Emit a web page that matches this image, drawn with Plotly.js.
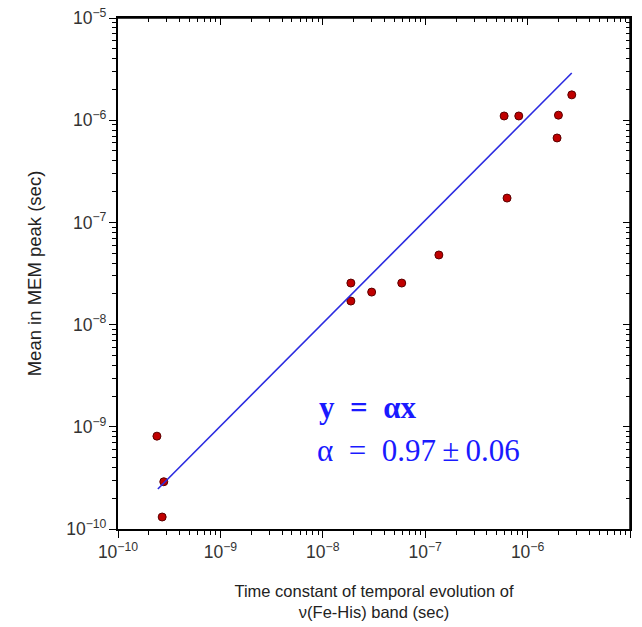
<!DOCTYPE html>
<html><head><meta charset="utf-8">
<script src="https://cdn.plot.ly/plotly-3.0.1.min.js"></script>
<style>html,body{margin:0;padding:0;background:#fff;overflow:hidden}#chart{width:642px;height:627px}</style>
</head><body><div id="chart"></div>
<script>
// Data
const timeConstant = [2.4e-10, 2.8e-10, 2.7e-10, 1.88e-8, 1.88e-8, 3.0e-8, 5.9e-8, 1.36e-7, 5.9e-7, 8.2e-7, 6.3e-7, 1.94e-6, 2.0e-6, 2.7e-6];
const memPeakMean  = [8.1e-10, 2.9e-10, 1.31e-10, 2.55e-8, 1.70e-8, 2.08e-8, 2.55e-8, 4.8e-8, 1.1e-6, 1.1e-6, 1.73e-7, 6.7e-7, 1.12e-6, 1.77e-6];
const fitX = [2.45e-10, 2.7e-6];
const fitY = [2.46e-10, 2.9e-6];
const axisRange = [-10, -5];

const tickFont = {family: 'Liberation Sans, Arial, sans-serif', size: 14, color: '#333'};
const baseAxis = {
  type: 'log', range: axisRange, dtick: 1, exponentformat: 'power', automargin: false,
  showgrid: false, zeroline: false, showline: true, linecolor: '#000', linewidth: 1.5,
  ticks: 'outside', ticklen: 7, tickwidth: 1.2, tickcolor: '#000', tickfont: tickFont,
  minor: {ticks: 'outside', ticklen: 4, tickwidth: 1, tickcolor: '#000', dtick: 'D1', showgrid: false}
};
const innerMinor = {ticks: 'inside', ticklen: 4, tickwidth: 1, tickcolor: '#000', dtick: 'D1', showgrid: false};

const data = [
  {x: timeConstant, y: memPeakMean, type: 'scatter', mode: 'markers',
   marker: {size: 8, color: '#c00000', line: {color: '#5a0000', width: 1}}, showlegend: false},
  {x: fitX, y: fitY, type: 'scatter', mode: 'lines',
   line: {color: '#2b2be0', width: 1.6}, showlegend: false},
  {x: fitX, y: fitY, xaxis: 'x2', yaxis: 'y', type: 'scatter', mode: 'markers',
   marker: {size: 1, opacity: 0}, hoverinfo: 'skip', showlegend: false},
  {x: fitX, y: fitY, xaxis: 'x', yaxis: 'y2', type: 'scatter', mode: 'markers',
   marker: {size: 1, opacity: 0}, hoverinfo: 'skip', showlegend: false}
];

const layout = {
  width: 642, height: 627,
  margin: {l: 118, r: 12, t: 18, b: 98},
  showlegend: false,
  xaxis: Object.assign({}, baseAxis, {
    title: {text: 'Time constant of temporal evolution of<br>\u03bd(Fe-His) band (sec)',
            font: {family: 'Liberation Sans, Arial, sans-serif', size: 16.5, color: '#222'}, standoff: 24}
  }),
  yaxis: Object.assign({}, baseAxis, {
    title: {text: 'Mean in MEM peak (sec)',
            font: {family: 'Liberation Sans, Arial, sans-serif', size: 18.5, color: '#222'}, standoff: 20}
  }),
  xaxis2: Object.assign({}, baseAxis, {overlaying: 'x', side: 'top', anchor: 'y', showticklabels: false,
    ticks: 'inside', minor: innerMinor}),
  yaxis2: Object.assign({}, baseAxis, {overlaying: 'y', side: 'right', anchor: 'x', showticklabels: false,
    ticks: 'inside', minor: innerMinor}),
  shapes: [
    {type: 'line', xref: 'paper', yref: 'paper', x0: 0, x1: 1, y0: 1, y1: 1, layer: 'above',
     line: {color: '#000', width: 1.5}},
    {type: 'line', xref: 'paper', yref: 'paper', x0: 1, x1: 1, y0: 0, y1: 1, layer: 'above',
     line: {color: '#000', width: 1.5}}
  ],
  annotations: [
    {xref: 'paper', yref: 'paper', x: 0.388, y: 0.237, xanchor: 'left', yanchor: 'middle', showarrow: false,
     text: '<b>y\u2002=\u2002\u03b1x</b>', font: {family: 'Liberation Serif, Times New Roman, serif', size: 31, color: '#1a1aff'}},
    {xref: 'paper', yref: 'paper', x: 0.385, y: 0.154, xanchor: 'left', yanchor: 'middle', showarrow: false,
     text: '\u03b1\u2002=\u20020.97\u2009\u00b1\u20090.06', font: {family: 'Liberation Serif, Times New Roman, serif', size: 31, color: '#1a1aff'}}
  ]
};

Plotly.newPlot('chart', data, layout, {displayModeBar: false});
</script></body></html>
